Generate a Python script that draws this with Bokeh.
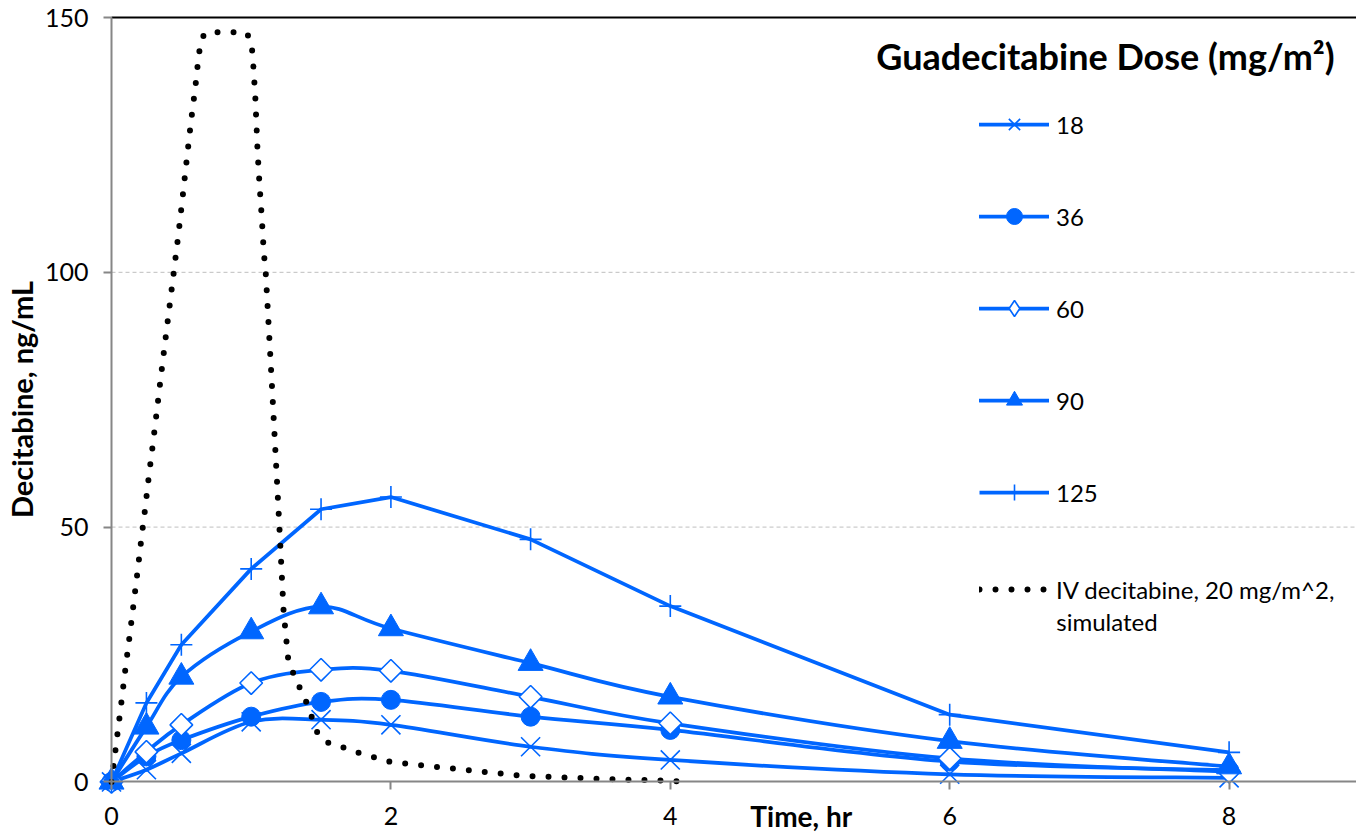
import math
from bokeh.plotting import figure
from bokeh.models import Range1d, Legend, LegendItem, Label, FixedTicker
from bokeh.embed import file_html
from bokeh.resources import INLINE

# ---------------- data ----------------
time_hr = [0, 0.25, 0.5, 1, 1.5, 2, 3, 4, 6, 8]
dose_18 = [0, 2.4, 5.6, 11.8, 12.2, 11.2, 6.9, 4.3, 1.5, 0.8]
dose_36 = [0, 5.0, 8.2, 12.8, 15.7, 16.1, 12.8, 10.2, 4.0, 2.3]
dose_60 = [0, 5.9, 11.2, 19.4, 22.0, 21.8, 16.7, 11.5, 4.6, 2.0]
dose_90 = [0, 10.8, 20.6, 29.5, 34.4, 30.1, 23.3, 16.7, 8.0, 3.0]
dose_125 = [0, 15.5, 26.9, 41.8, 53.5, 55.9, 47.6, 34.5, 13.2, 5.8]

iv_time = [0, 0.015, 0.043, 0.072, 0.1, 0.129, 0.158, 0.186, 0.214, 0.242,
           0.268, 0.297, 0.325, 0.352, 0.38, 0.409, 0.437, 0.48, 0.51, 0.54,
           0.57, 0.6, 0.622, 0.64, 0.67, 0.72, 0.84, 0.96, 0.99, 1.01,
           1.03, 1.045, 1.06, 1.075, 1.09, 1.105, 1.15, 1.2, 1.232, 1.264,
           1.304, 1.352, 1.4, 1.44, 1.48, 1.56, 1.68, 1.77, 2.0, 2.48,
           2.94, 3.5, 4.0, 4.11]
iv_conc = [0, 3.3, 9.5, 15.9, 22.3, 28.5, 34.9, 41.2, 47.8, 53.9,
           60.2, 66.5, 72.9, 79.2, 85.5, 91.9, 98.1, 107.7, 115, 122.5,
           129.8, 136.3, 142, 145.5, 147, 147.1, 147.1, 147.1, 146, 143,
           134, 124, 117, 111, 104, 99.5, 77, 51, 33.4, 24.3,
           21.1, 18.2, 15.3, 12.2, 9.2, 7.5, 6.6, 5.7, 3.9, 2.5,
           1.2, 0.6, 0.2, 0.0]

x_ticks = [0, 2, 4, 6, 8]
y_ticks = [0, 50, 100, 150]

dose_labels = ["18", "36", "60", "90", "125"]
iv_label_1 = "IV decitabine, 20 mg/m^2,"
iv_label_2 = "simulated"
legend_title = "Guadecitabine  Dose (mg/m²)"
x_title = "Time, hr"
y_title = "Decitabine, ng/mL"

BLUE = "#0066FF"
FONT = "Lato"
X_START = -0.7946
X_END = 8.912
Y_START = -9.93
Y_END = 153.34

# ---------------- figure ----------------
p = figure(width=1356, height=832, output_backend="svg", toolbar_location=None,
           x_range=Range1d(X_START, X_END), y_range=Range1d(Y_START, Y_END),
           min_border_left=0, min_border_right=0, min_border_top=0,
           min_border_bottom=0)
p.outline_line_color = None
p.background_fill_color = "white"
p.border_fill_color = "white"

p.xaxis.ticker = FixedTicker(ticks=x_ticks)
p.yaxis.ticker = FixedTicker(ticks=y_ticks)
p.xaxis.fixed_location = 0
p.yaxis.fixed_location = 0
p.xaxis.bounds = (0, X_END)
p.yaxis.bounds = (0, 150)
for ax in (p.xaxis[0], p.yaxis[0]):
    ax.axis_line_color = "#868686"
    ax.axis_line_width = 2
    ax.major_tick_line_color = "#868686"
    ax.major_tick_line_width = 2
    ax.major_tick_out = 8
    ax.major_tick_in = 0
    ax.minor_tick_line_color = None
    ax.major_label_text_font = FONT
    ax.major_label_text_font_size = "25px"
    ax.major_label_text_color = "black"
p.xaxis.major_label_standoff = 17
p.yaxis.major_label_standoff = 15
p.yaxis.axis_label = y_title
p.yaxis.axis_label_text_font = FONT
p.yaxis.axis_label_text_font_style = "bold"
p.yaxis.axis_label_text_font_size = "29px"
p.yaxis.axis_label_text_color = "black"
p.yaxis.axis_label_standoff = 3

p.xgrid.grid_line_color = None
p.ygrid.grid_line_color = None

# horizontal gridlines (from the y ticks), starting at the y axis
grid_y = y_ticks[1:-1]
p.segment(x0=[0] * len(grid_y), y0=grid_y, x1=[X_END] * len(grid_y), y1=grid_y,
          line_color="#BFBFBF", line_dash="4 3", line_width=1)
p.segment(x0=[0], y0=[y_ticks[-1]], x1=[X_END], y1=[y_ticks[-1]],
          line_color="black", line_width=2)


def bezier_segments(xs, ys):
    n = len(xs)
    out = dict(x0=[], y0=[], x1=[], y1=[], cx0=[], cy0=[], cx1=[], cy1=[])
    for i in range(n - 1):
        im = max(i - 1, 0)
        ip2 = min(i + 2, n - 1)
        out["x0"].append(xs[i]); out["y0"].append(ys[i])
        out["x1"].append(xs[i + 1]); out["y1"].append(ys[i + 1])
        out["cx0"].append(xs[i] + (xs[i + 1] - xs[im]) / 6.0)
        out["cy0"].append(ys[i] + (ys[i + 1] - ys[im]) / 6.0)
        out["cx1"].append(xs[i + 1] - (xs[ip2] - xs[i]) / 6.0)
        out["cy1"].append(ys[i + 1] - (ys[ip2] - ys[i]) / 6.0)
    return out


series = [dose_18, dose_36, dose_60, dose_90, dose_125]
markers = [
    dict(marker="x", size=27, line_width=1.6, fill_color=BLUE),
    dict(marker="circle", size=19, line_width=1, fill_color=BLUE),
    dict(marker="square", size=16, line_width=1.6, fill_color="white", angle=math.pi / 4),
    dict(marker="triangle", size=25, line_width=1, fill_color=BLUE),
    dict(marker="cross", size=22, line_width=1.6, fill_color=BLUE),
]

items = []
for k, (vals, mk, lab) in enumerate(zip(series, markers, dose_labels)):
    if lab == "125":
        lr = p.line(time_hr, vals, line_color=BLUE, line_width=3.75, line_join="round")
    else:
        seg = bezier_segments(time_hr, vals)
        lr = p.bezier(x0=seg["x0"], y0=seg["y0"], x1=seg["x1"], y1=seg["y1"],
                      cx0=seg["cx0"], cy0=seg["cy0"], cx1=seg["cx1"], cy1=seg["cy1"],
                      line_color=BLUE, line_width=3.75, line_cap="round")
    sr = p.scatter(time_hr, vals, line_color=BLUE, **mk)
    rends = [lr, sr]
    if lab == "60":
        # legend-only diamond marker (rotated squares are drawn unrotated in legends)
        dr = p.scatter(time_hr, vals, marker="diamond", size=22, line_color=BLUE,
                       line_width=1.6, fill_color="white", visible=False)
        rends = [lr, dr]
    items.append(LegendItem(label=lab, renderers=rends))

ivr = p.line(iv_time, iv_conc, line_color="black", line_width=6,
             line_dash="0 16", line_cap="round", line_join="round")

leg_common = dict(glyph_width=70, glyph_height=40, label_height=40, spacing=52,
                  label_standoff=7, padding=0, margin=0, border_line_color=None,
                  background_fill_alpha=0, label_text_font=FONT,
                  label_text_font_size="24px", label_text_color="black",
                  click_policy="none")
legend = Legend(items=items, location=(979, 320), **leg_common)
p.add_layout(legend)
legend_iv = Legend(items=[LegendItem(label=iv_label_1, renderers=[ivr])],
                   location=(979, 223), **leg_common)
p.add_layout(legend_iv)

p.add_layout(Label(x=6.763, y=31.5, text=iv_label_2, text_font=FONT,
                   text_font_size="24px", text_baseline="middle",
                   text_color="black"))
p.add_layout(Label(x=5.475, y=142.5, text=legend_title, text_font=FONT,
                   text_font_style="bold", text_font_size="36px",
                   text_baseline="middle", text_color="black"))
p.add_layout(Label(x=4.573, y=-6.6, text=x_title, text_font=FONT,
                   text_font_style="bold", text_font_size="28px",
                   text_baseline="middle", text_color="black"))

open("out.html", "w").write(file_html(p, INLINE))
